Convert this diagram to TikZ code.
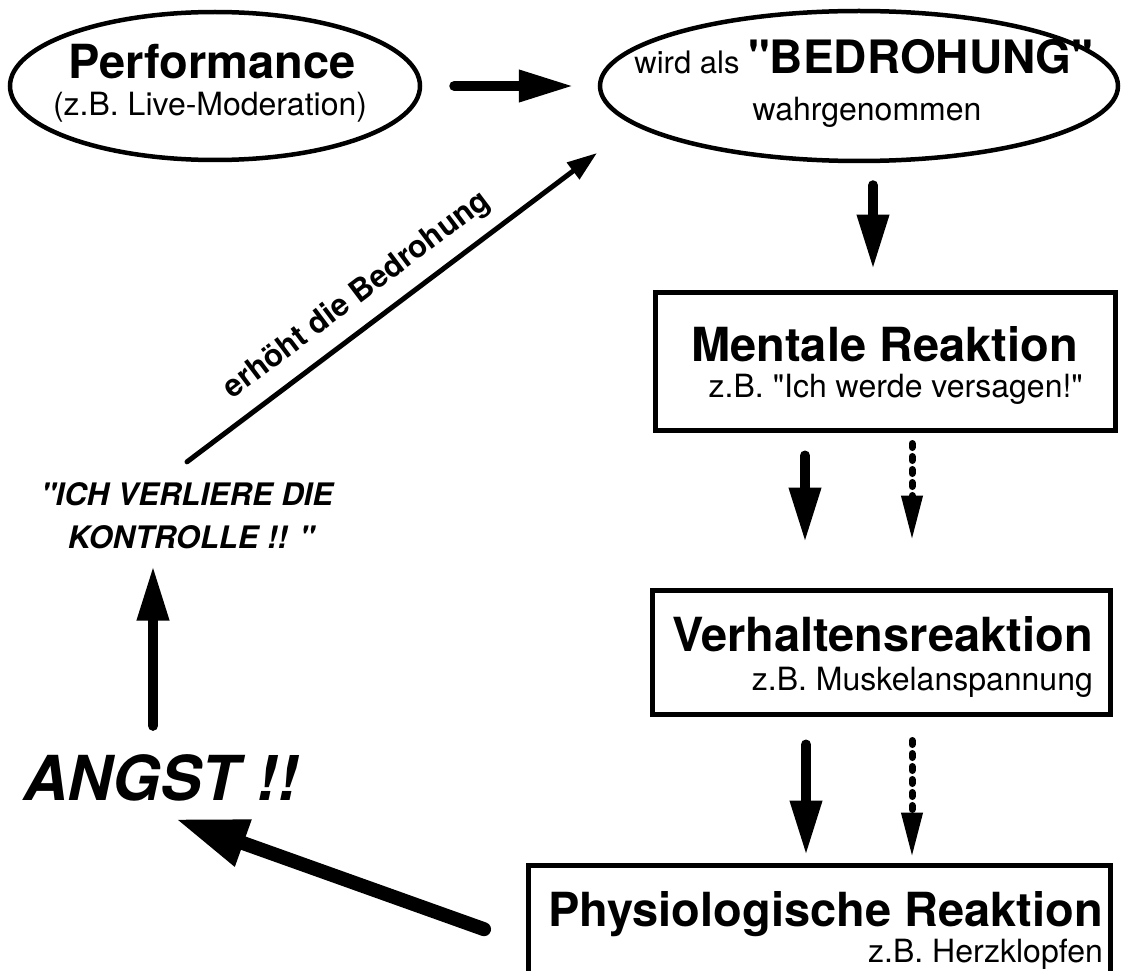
\documentclass[tikz,border=0pt]{standalone}
\usepackage{fontspec}
\setmainfont{TeX Gyre Heros}[Ligatures=TeXOff]
\usetikzlibrary{arrows.meta,shapes.geometric}
\tikzset{
  ell/.style={ellipse, draw, line width=4.5pt, inner sep=0pt},
  boxst/.style={rectangle, draw, line width=5pt, inner sep=0pt},
  ttl/.style={inner sep=0pt, font=\fontsize{47pt}{52pt}\selectfont\bfseries},
  sub/.style={inner sep=0pt, font=\fontsize{32pt}{36pt}\selectfont},
  kon/.style={inner sep=0pt, font=\fontsize{31pt}{36pt}\selectfont\bfseries\itshape},
  big/.style={line width=10pt, line cap=round, -{Triangle[length=55pt,width=30pt]}},
  dotarr/.style={line width=7pt, line cap=round, dash pattern=on 4pt off 9pt, -{Triangle[length=45pt,width=20pt]}},
  hugearr/.style={line width=14pt, line cap=round, -{Triangle[length=72pt,width=46pt]}},
  thinarr/.style={line width=5pt, line cap=round, -{Triangle[length=30pt,width=20pt]}},
}
\begin{document}
\begin{tikzpicture}[x=1pt,y=-1pt]
\useasboundingbox (0,0) rectangle (1125,971);
\clip (0,0) rectangle (1125,971);

% ellipses
\node[ell, minimum width=410pt, minimum height=148pt] (perf) at (215,86) {};
\node[ttl, anchor=base] (perfT) at (212,79) {Performance};
\node[sub, anchor=base] (perfS) at (210,116) {(z.B. Live-Moderation)};

\node[ell, minimum width=518pt, minimum height=150pt] (bed) at (859,86) {};
\node[inner sep=0pt, anchor=base] (bedT) at (864,74) {{\fontsize{31pt}{36pt}\selectfont wird als }{\fontsize{46pt}{52pt}\selectfont\bfseries "BEDROHUNG"}};
\node[sub, anchor=base] (bedS) at (867,121) {wahrgenommen};

% boxes
\node[boxst, minimum width=460pt, minimum height=138pt] (M) at (885,361) {};
\node[ttl, anchor=base east] (mT) at (1078,361) {Mentale Reaktion};
\node[sub, anchor=base east] (mS) at (1083,397) {z.B. "Ich werde versagen!"};

\node[boxst, minimum width=458pt, minimum height=124pt] (V) at (881,652) {};
\node[ttl, anchor=base east] (vT) at (1093,651) {Verhaltensreaktion};
\node[sub, anchor=base east] (vS) at (1093,690) {z.B. Muskelanspannung};

\node[boxst, minimum width=582pt, minimum height=158pt] (P) at (819,944) {};
\node[ttl, anchor=base east] (pT) at (1103,926) {Physiologische Reaktion};
\node[sub, anchor=base east] (pS) at (1103,962) {z.B. Herzklopfen};

% left texts
\node[inner sep=0pt, anchor=base west, font=\fontsize{62pt}{70pt}\selectfont\bfseries\itshape] (angst) at (23,800) {ANGST !!};
\node[kon, anchor=base] (kon1) at (187,505) {"ICH VERLIERE DIE};
\node[kon, anchor=base] (kon2) at (191,548) {KONTROLLE !! "};

% helper coordinates
\coordinate (c1) at (873,0);
\coordinate (c2) at (805,0);
\coordinate (c3) at (912,0);
\coordinate (c4) at (806,0);
\coordinate (c5) at (153,0);
\coordinate (dtip) at (597,153);

% connectors
\draw[big, shorten <=32pt, shorten >=24pt] (perf.east) -- (bed.west);
\draw[big, shorten <=22pt, shorten >=20pt] (bed.south -| c1) -- (M.north -| c1);
\draw[big, shorten <=23pt, shorten >=45pt] (M.south -| c2) -- (V.north -| c2);
\draw[dotarr, shorten <=11pt, shorten >=47pt] (M.south -| c3) -- (V.north -| c3);
\draw[big, shorten <=28pt, shorten >=7pt] (V.south -| c4) -- (P.north -| c4);
\draw[dotarr, shorten <=24pt, shorten >=5pt] (V.south -| c3) -- (P.north -| c3);
\draw[hugearr, shorten <=44pt] (P.west) -- ([xshift=15pt,yshift=-18pt]angst.south);
\draw[big, shorten <=28pt, shorten >=17pt] (angst.north -| c5) -- (kon2.south -| c5);
\draw[thinarr] ([yshift=20pt]kon1.north) -- node[sloped, pos=0.46, above=13pt, inner sep=0pt, font=\fontsize{31pt}{34pt}\selectfont\bfseries] (lbl) {erhöht die Bedrohung} (dtip);
\end{tikzpicture}
\end{document}
